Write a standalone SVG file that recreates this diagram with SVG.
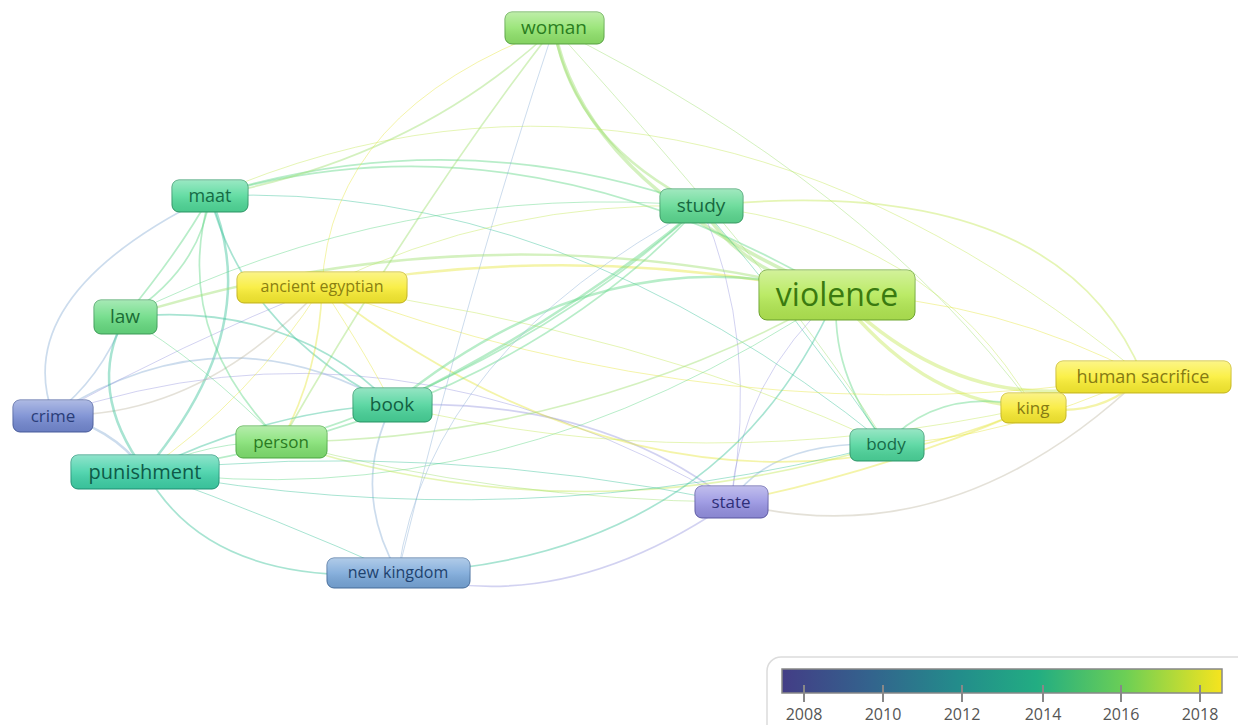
<svg xmlns="http://www.w3.org/2000/svg" width="1238" height="725" viewBox="0 0 1238 725">
<style>
.e{fill:none;stroke-linecap:round;stroke-opacity:0.45}
.y{stroke:#e6e640}.yg{stroke:#c6e85a}.lg{stroke:#9fe070}.g{stroke:#62d688}.t{stroke:#3fc49c}.b{stroke:#8fb2d6}.p{stroke:#9c9ce0}.gr{stroke:#c4bca8}
.w1{stroke-width:1}.w2{stroke-width:1.7}.w3{stroke-width:2.5}.w4{stroke-width:3.6}
.nt{font-family:"Open Sans","Noto Sans","DejaVu Sans",sans-serif;text-anchor:middle;dominant-baseline:central}
.lab{font-family:"Open Sans","Noto Sans","DejaVu Sans",sans-serif;font-size:16px;fill:#555;text-anchor:middle}
</style>
<defs>
<linearGradient id="gloss" x1="0" y1="0" x2="0" y2="1">
<stop offset="0" stop-color="#fff" stop-opacity="0.42"/>
<stop offset="0.5" stop-color="#fff" stop-opacity="0.12"/>
<stop offset="1" stop-color="#000" stop-opacity="0.07"/>
</linearGradient>
<linearGradient id="cbar" x1="0" y1="0" x2="1" y2="0">
<stop offset="0" stop-color="#433d86"/>
<stop offset="0.2" stop-color="#33638d"/>
<stop offset="0.4" stop-color="#238c8b"/>
<stop offset="0.58" stop-color="#22ad82"/>
<stop offset="0.78" stop-color="#6ccf55"/>
<stop offset="1" stop-color="#f6e41e"/>
</linearGradient>
</defs>
<rect width="1238" height="725" fill="#fff"/>
<g id="connectors">
<path class="e lg w3" d="M554,28 Q573,143 701,206"/>
<path class="e lg w4" d="M554,28 Q585,189 837,294"/>
<path class="e t w3" d="M210,196 Q267,327 145,471"/>
<path class="e lg w4" d="M701,206 Q741,274 837,294"/>
<path class="e yg w4" d="M837,294 Q925,406 1033,407"/>
<path class="e yg w4" d="M837,294 Q975,430 1143,376"/>
<path class="e y w3" d="M1033,407 Q1100,420 1143,376"/>
<path class="e g w2" d="M837,294 Q829,371 886,444"/>
<path class="e t w1" d="M701,206 Q800,320 886,444"/>
<path class="e g w2" d="M886,444 Q940,385 1033,407"/>
<path class="e gr w2" d="M731,502 Q950,560 1143,376"/>
<path class="e y w2" d="M731,502 Q890,470 1033,407"/>
<path class="e b w2" d="M731,502 Q770,440 886,444"/>
<path class="e p w1" d="M731,502 Q760,340 701,206"/>
<path class="e p w1" d="M731,502 Q740,380 837,294"/>
<path class="e p w2" d="M392,405 Q599,397 731,502"/>
<path class="e b w2" d="M53,415 Q222,306 392,405"/>
<path class="e p w1" d="M53,415 Q390,300 731,502"/>
<path class="e b w2" d="M53,415 Q9,295 210,196"/>
<path class="e b w3" d="M53,415 Q110,425 145,471"/>
<path class="e b w2" d="M53,415 Q100,380 125,317"/>
<path class="e p w1" d="M53,415 Q180,345 322,287"/>
<path class="e gr w2" d="M53,415 Q200,420 322,287"/>
<path class="e g w2" d="M210,196 Q200,270 125,317"/>
<path class="e g w2" d="M210,196 Q180,250 125,317"/>
<path class="e t w3" d="M125,317 Q85,390 145,471"/>
<path class="e g w2" d="M210,196 Q170,330 281,442"/>
<path class="e t w2" d="M210,196 Q245,330 392,405"/>
<path class="e g w2" d="M210,196 Q455,119 701,206"/>
<path class="e g w2" d="M210,196 Q517,105 837,294"/>
<path class="e lg w2" d="M210,196 Q418,158 554,28"/>
<path class="e yg w1" d="M210,196 Q676,-6 1143,376"/>
<path class="e t w1" d="M210,196 Q560,180 886,444"/>
<path class="e y w3" d="M322,287 Q580,240 837,294"/>
<path class="e y w2" d="M322,287 Q680,560 1033,407"/>
<path class="e y w1" d="M322,287 Q730,440 1143,376"/>
<path class="e y w1" d="M322,287 Q330,110 554,28"/>
<path class="e y w2" d="M322,287 Q320,370 281,442"/>
<path class="e y w1" d="M322,287 Q250,400 145,471"/>
<path class="e y w1" d="M322,287 Q370,360 392,405"/>
<path class="e yg w1" d="M322,287 Q640,330 886,444"/>
<path class="e yg w1" d="M322,287 Q500,200 701,206"/>
<path class="e g w3" d="M392,405 Q574,315 701,206"/>
<path class="e g w3" d="M392,405 Q606,230 837,294"/>
<path class="e t w2" d="M392,405 Q270,410 145,471"/>
<path class="e b w2" d="M392,405 Q350,490 398,573"/>
<path class="e g w2" d="M281,442 Q520,370 701,206"/>
<path class="e g w2" d="M145,471 Q500,420 701,206"/>
<path class="e lg w2" d="M281,442 Q580,440 837,294"/>
<path class="e g w1" d="M145,471 Q500,520 837,294"/>
<path class="e yg w2" d="M281,442 Q580,540 886,444"/>
<path class="e lg w1" d="M281,442 Q500,500 731,502"/>
<path class="e t w1" d="M145,471 Q430,440 731,502"/>
<path class="e t w2" d="M145,471 Q209,588 398,573"/>
<path class="e t w1" d="M145,471 Q280,520 398,573"/>
<path class="e b w1" d="M398,573 Q430,350 701,206"/>
<path class="e b w1" d="M398,573 Q470,280 554,28"/>
<path class="e t w2" d="M398,573 Q720,560 837,294"/>
<path class="e p w2" d="M398,573 Q560,620 731,502"/>
<path class="e lg w1" d="M554,28 Q867,183 1033,407"/>
<path class="e lg w2" d="M554,28 Q420,200 281,442"/>
<path class="e yg w2" d="M701,206 Q1058,169 1143,376"/>
<path class="e yg w1" d="M701,206 Q930,230 1033,407"/>
<path class="e lg w3" d="M125,317 Q480,205 837,294"/>
<path class="e t w2" d="M125,317 Q290,300 392,405"/>
<path class="e g w1" d="M125,317 Q200,360 281,442"/>
<path class="e g w1" d="M125,317 Q400,180 701,206"/>
<path class="e y w1" d="M886,444 Q1000,440 1143,376"/>
<path class="e g w1" d="M145,471 Q210,440 281,442"/>
<path class="e t w1" d="M145,471 Q520,540 886,444"/>
<path class="e yg w1" d="M392,405 Q700,480 1033,407"/>
<path class="e y w1" d="M837,294 Q1000,300 1143,376"/>
<path class="e lg w1" d="M554,28 Q800,300 886,444"/>
</g>
<g id="node-woman"><rect x="505" y="12" width="99" height="32" rx="7" fill="#8fe26a" stroke="#5aa844"/><rect x="505" y="12" width="99" height="32" rx="7" fill="url(#gloss)"/><text class="nt" x="554" y="27" font-size="19" fill="#2a7d20">woman</text></g>
<g id="node-maat"><rect x="172" y="180" width="76" height="32" rx="7" fill="#50d898" stroke="#2f9a68"/><rect x="172" y="180" width="76" height="32" rx="7" fill="url(#gloss)"/><text class="nt" x="210" y="195" font-size="18" fill="#156b45">maat</text></g>
<g id="node-study"><rect x="660" y="189" width="83" height="34" rx="7" fill="#5cd890" stroke="#3a9f66"/><rect x="660" y="189" width="83" height="34" rx="7" fill="url(#gloss)"/><text class="nt" x="701" y="205" font-size="19" fill="#17683f">study</text></g>
<g id="node-ancient-egyptian"><rect x="237" y="272" width="170" height="31" rx="7" fill="#f8ec30" stroke="#c8b820"/><rect x="237" y="272" width="170" height="31" rx="7" fill="url(#gloss)"/><text class="nt" x="322" y="286" font-size="16" fill="#8a7f12">ancient egyptian</text></g>
<g id="node-violence"><rect x="759" y="270" width="156" height="50" rx="8" fill="#b2e852" stroke="#6fa830"/><rect x="759" y="270" width="156" height="50" rx="8" fill="url(#gloss)"/><text class="nt" x="837" y="293" font-size="32" fill="#3a7a10">violence</text></g>
<g id="node-law"><rect x="94" y="300" width="63" height="34" rx="7" fill="#66da80" stroke="#3ea05a"/><rect x="94" y="300" width="63" height="34" rx="7" fill="url(#gloss)"/><text class="nt" x="125" y="316" font-size="19" fill="#1b6d35">law</text></g>
<g id="node-crime"><rect x="13" y="400" width="80" height="32" rx="7" fill="#7388d0" stroke="#4a5ea0"/><rect x="13" y="400" width="80" height="32" rx="7" fill="url(#gloss)"/><text class="nt" x="53" y="415" font-size="17" fill="#2a3d78">crime</text></g>
<g id="node-book"><rect x="353" y="388" width="79" height="34" rx="7" fill="#48d298" stroke="#2b9a69"/><rect x="353" y="388" width="79" height="34" rx="7" fill="url(#gloss)"/><text class="nt" x="392" y="404" font-size="19" fill="#135f42">book</text></g>
<g id="node-person"><rect x="236" y="426" width="91" height="32" rx="7" fill="#80e070" stroke="#4fae45"/><rect x="236" y="426" width="91" height="32" rx="7" fill="url(#gloss)"/><text class="nt" x="281" y="441" font-size="17" fill="#2a7a22">person</text></g>
<g id="node-punishment"><rect x="71" y="455" width="148" height="34" rx="7" fill="#3ed0a6" stroke="#1f9678"/><rect x="71" y="455" width="148" height="34" rx="7" fill="url(#gloss)"/><text class="nt" x="145" y="471" font-size="20" fill="#0e5a48">punishment</text></g>
<g id="node-human-sacrifice"><rect x="1056" y="361" width="175" height="32" rx="7" fill="#faee30" stroke="#cbbb20"/><rect x="1056" y="361" width="175" height="32" rx="7" fill="url(#gloss)"/><text class="nt" x="1143" y="376" font-size="18" fill="#857a14">human sacrifice</text></g>
<g id="node-king"><rect x="1001" y="393" width="65" height="30" rx="7" fill="#f8ea30" stroke="#cbbb20"/><rect x="1001" y="393" width="65" height="30" rx="7" fill="url(#gloss)"/><text class="nt" x="1033" y="407" font-size="17" fill="#857a14">king</text></g>
<g id="node-body"><rect x="850" y="429" width="74" height="32" rx="7" fill="#4cd49a" stroke="#2f9a6c"/><rect x="850" y="429" width="74" height="32" rx="7" fill="url(#gloss)"/><text class="nt" x="886" y="443" font-size="17" fill="#166b48">body</text></g>
<g id="node-state"><rect x="695" y="486" width="73" height="32" rx="7" fill="#9490e0" stroke="#5e5aa8"/><rect x="695" y="486" width="73" height="32" rx="7" fill="url(#gloss)"/><text class="nt" x="731" y="501" font-size="17" fill="#2f2f78">state</text></g>
<g id="node-new-kingdom"><rect x="327" y="558" width="143" height="30" rx="7" fill="#78a6d8" stroke="#4870a0"/><rect x="327" y="558" width="143" height="30" rx="7" fill="url(#gloss)"/><text class="nt" x="398" y="572" font-size="16" fill="#1e426e">new kingdom</text></g>
<g id="legend">
<rect x="767" y="657" width="490" height="90" rx="14" fill="#fff" stroke="#dcdcdc" stroke-width="1.5"/>
<rect x="782" y="669" width="440" height="24" fill="url(#cbar)" stroke="#888" stroke-width="1.5"/>
<g stroke="#888" stroke-width="2">
<line x1="804" y1="685" x2="804" y2="702"/><line x1="883" y1="685" x2="883" y2="702"/><line x1="962" y1="685" x2="962" y2="702"/><line x1="1043" y1="685" x2="1043" y2="702"/><line x1="1121" y1="685" x2="1121" y2="702"/><line x1="1200" y1="685" x2="1200" y2="702"/>
</g>
<text class="lab" x="804" y="720">2008</text><text class="lab" x="883" y="720">2010</text><text class="lab" x="962" y="720">2012</text><text class="lab" x="1043" y="720">2014</text><text class="lab" x="1121" y="720">2016</text><text class="lab" x="1200" y="720">2018</text>
</g>
</svg>
